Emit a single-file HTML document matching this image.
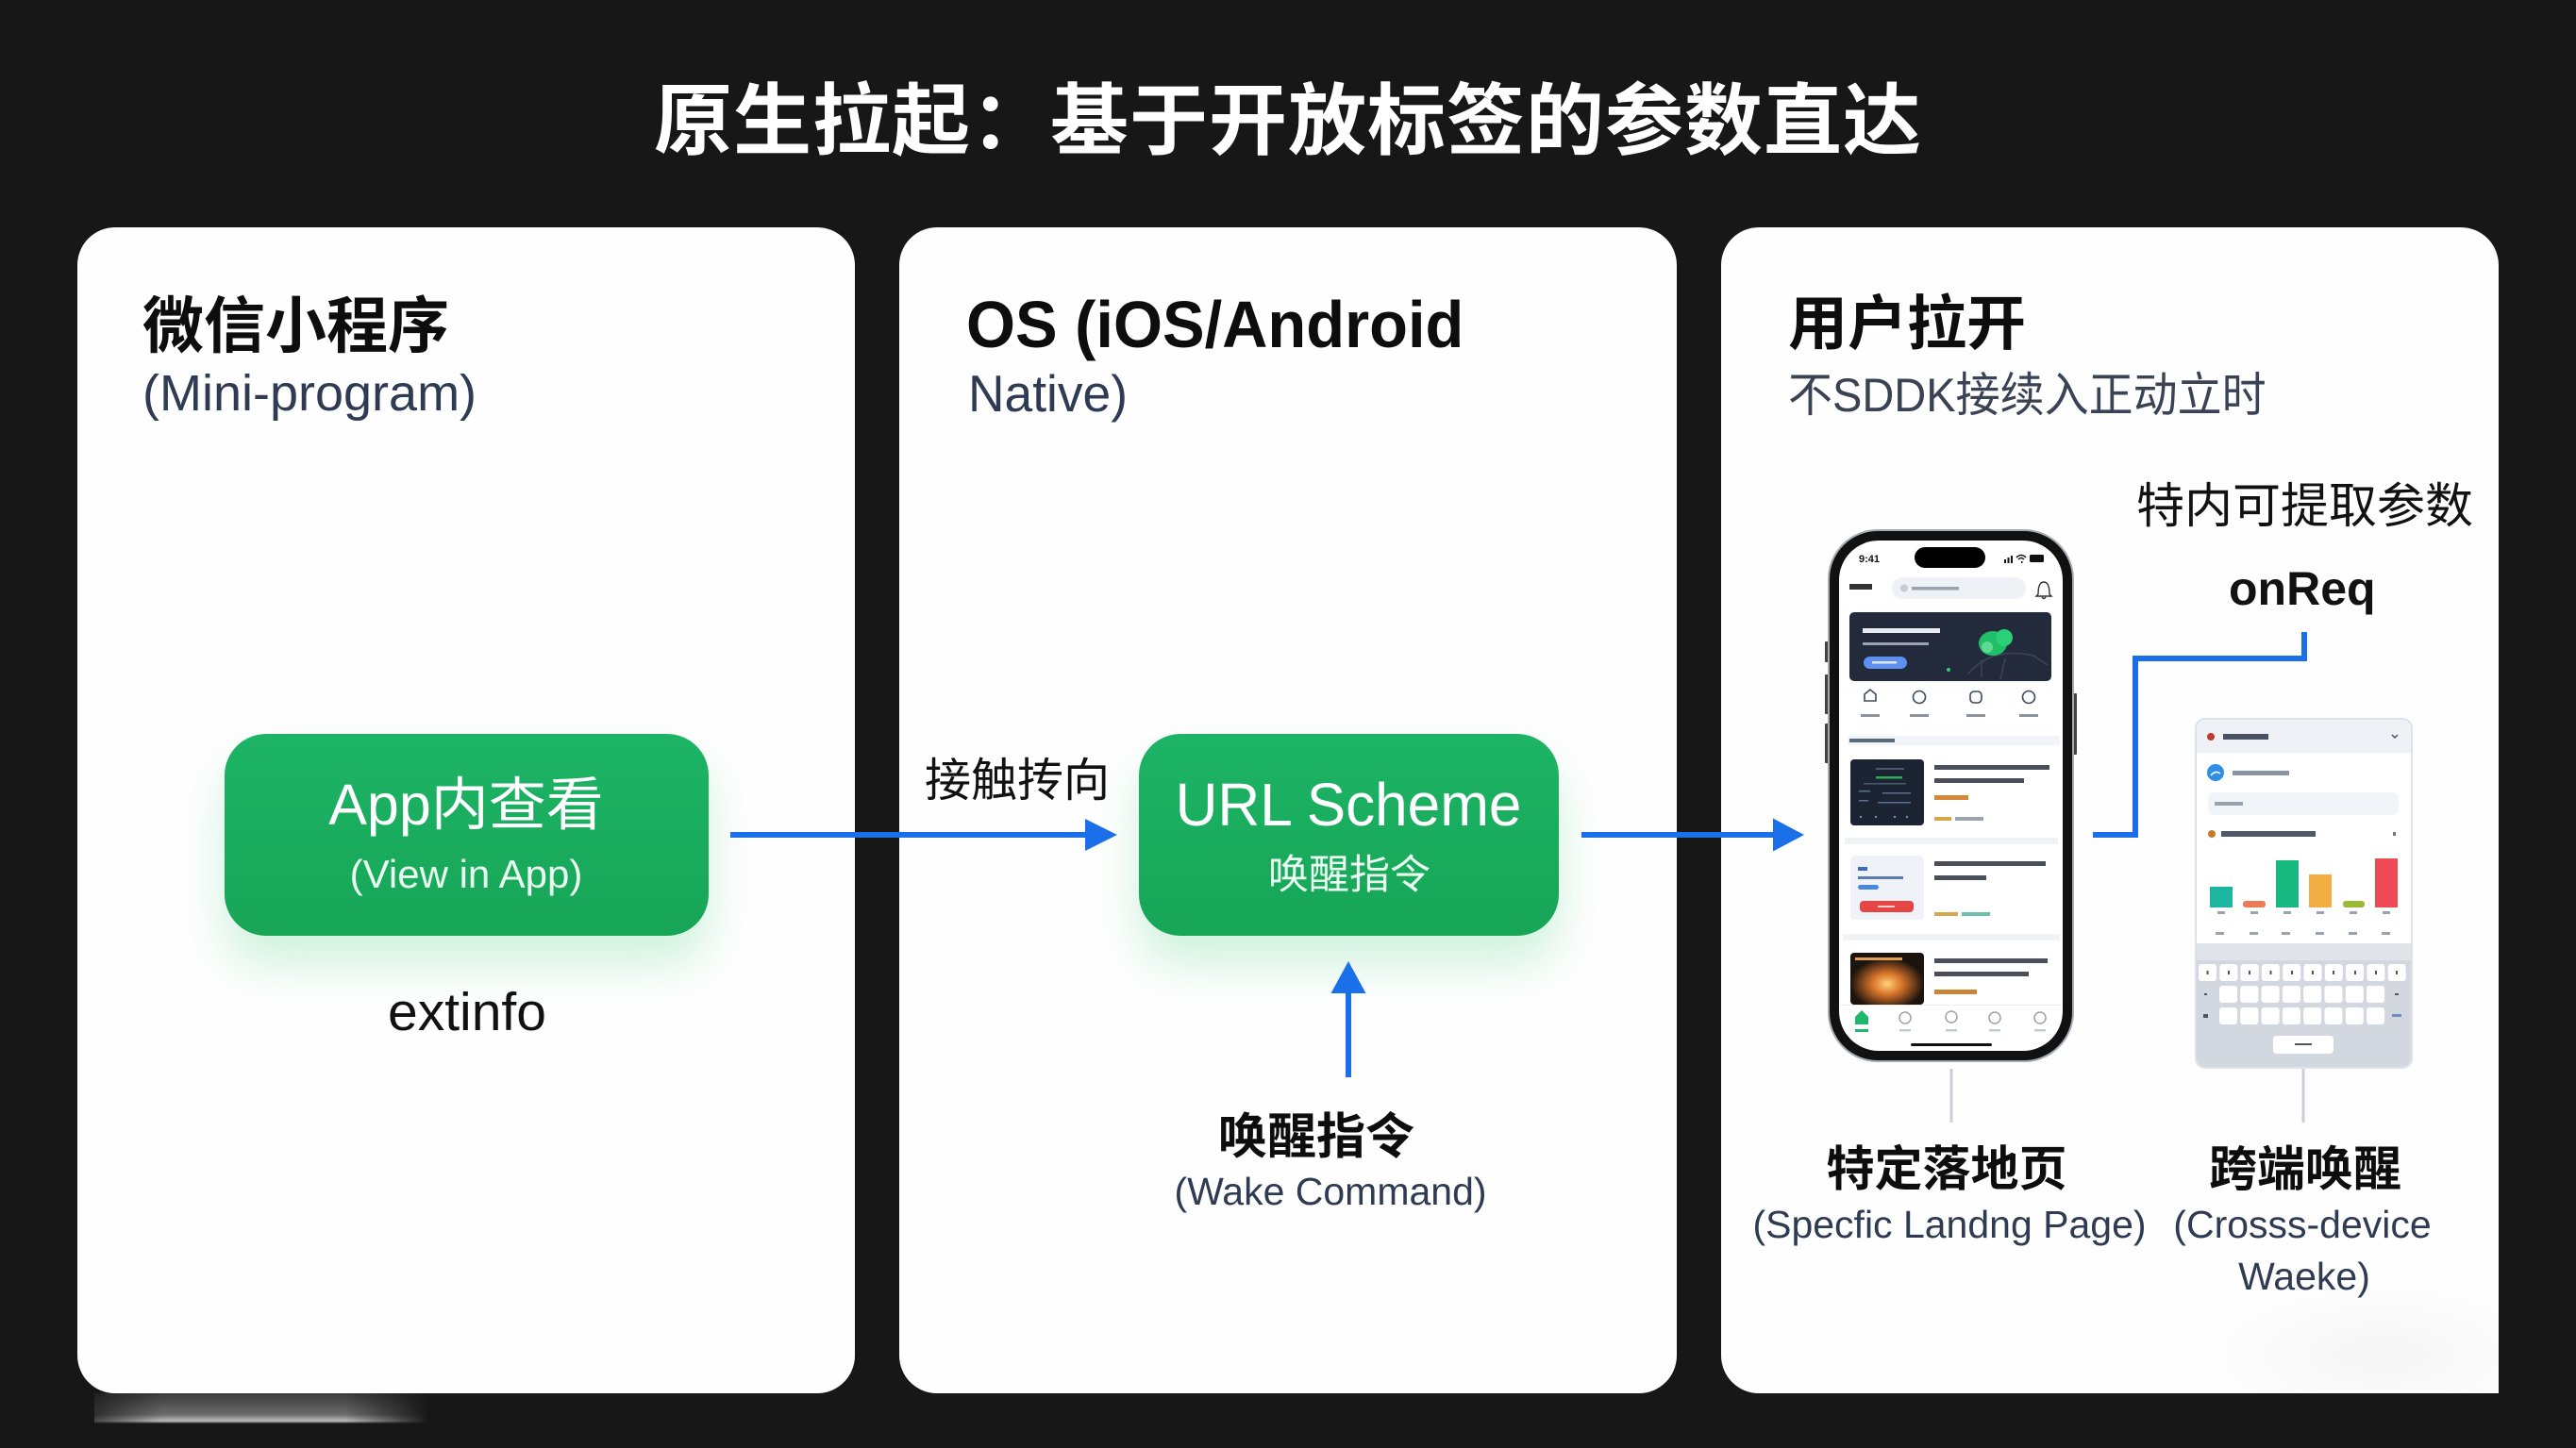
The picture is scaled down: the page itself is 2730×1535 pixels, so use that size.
<!DOCTYPE html>
<html>
<head>
<meta charset="utf-8">
<style>
html,body{margin:0;padding:0;background:#171717;}
#c{position:relative;width:2730px;height:1535px;overflow:hidden;background:#171717;font-family:"Liberation Sans","Noto Sans CJK SC",sans-serif;}
.t{position:absolute;white-space:nowrap;line-height:1;}
.panel{position:absolute;top:241px;width:824px;height:1236px;background:#fefefe;border-radius:40px;}
.g{position:absolute;top:778px;height:214px;border-radius:44px;background:linear-gradient(180deg,#1db466,#17a556);box-shadow:0 30px 48px rgba(40,200,110,0.22);}
.h{font-weight:700;color:#0d0d0d;}
.s{color:#2e3b52;}
.c{transform:translateX(-50%);}
</style>
</head>
<body>
<div id="c">
  <!-- title -->
  <div class="t" style="left:0;width:2730px;text-align:center;top:87px;font-size:83px;font-weight:700;color:#fff;letter-spacing:1px;">原生拉起：基于开放标签的参数直达</div>

  <!-- panels -->
  <div class="panel" style="left:82px;"></div>
  <div class="panel" style="left:953px;"></div>
  <div class="panel" style="left:1824px;border-radius:40px 40px 0 40px;background:radial-gradient(ellipse 200px 80px at 700px 1195px,rgba(0,0,0,0.035),rgba(0,0,0,0) 100%),#fefefe;"></div>

  <!-- smudge under panel 1 -->
  <div style="position:absolute;left:100px;top:1477px;width:355px;height:32px;background:linear-gradient(180deg,#3a3a3a 0%,#6a6a6a 70%,#bdbdbd 92%,#222 100%);-webkit-mask-image:linear-gradient(90deg,rgba(0,0,0,0.3),#000 20%,#000 75%,rgba(0,0,0,0));mask-image:linear-gradient(90deg,rgba(0,0,0,0.3),#000 20%,#000 75%,rgba(0,0,0,0));"></div>

  <!-- panel headings -->
  <div class="t h" style="left:151px;top:313px;font-size:65px;">微信小程序</div>
  <div class="t s" style="left:151px;top:390px;font-size:54px;">(Mini-program)</div>

  <div class="t h" style="left:1024px;top:309px;font-size:70px;transform-origin:left top;transform:scaleX(0.955);">OS (iOS/Android</div>
  <div class="t s" style="left:1026px;top:390px;font-size:55px;transform-origin:left top;transform:scaleX(0.97);">Native)</div>

  <div class="t h" style="left:1895px;top:313px;font-size:63px;">用户拉开</div>
  <div class="t s" style="left:1895px;top:394px;font-size:50px;color:#3a4354;transform-origin:left top;transform:scaleX(0.94);">不SDDK接续入正动立时</div>

  <!-- green boxes -->
  <div class="g" style="left:238px;width:513px;"></div>
  <div class="g" style="left:1207px;width:445px;"></div>

  <div class="t c" style="left:494px;top:823px;font-size:61px;color:#fff;">App内查看</div>
  <div class="t c" style="left:494px;top:906px;font-size:42px;color:#eafff1;">(View in App)</div>
  <div class="t c" style="left:1429px;top:821px;font-size:64px;color:#fff;transform:translateX(-50%) scaleX(0.97);">URL Scheme</div>
  <div class="t c" style="left:1430px;top:907px;font-size:43px;color:#eafff1;">唤醒指令</div>

  <div class="t c" style="left:495px;top:1045px;font-size:57px;color:#111;">extinfo</div>

  <div class="t" style="left:980px;top:804px;font-size:49px;color:#111;">接触抟向</div>

  <div class="t c h" style="left:1395px;top:1180px;font-size:52px;">唤醒指令</div>
  <div class="t c s" style="left:1410px;top:1243px;font-size:41px;">(Wake Command)</div>

  <div class="t" style="left:2264px;top:511px;font-size:51px;color:#111;">特内可提取参数</div>
  <div class="t" style="left:2362px;top:599px;font-size:50px;font-weight:700;color:#111;">onReq</div>

  <div class="t c h" style="left:2063px;top:1214px;font-size:51px;">特定落地页</div>
  <div class="t c s" style="left:2066px;top:1278px;font-size:41px;">(Specfic Landng Page)</div>
  <div class="t c h" style="left:2443px;top:1214px;font-size:51px;">跨端唤醒</div>
  <div class="t c s" style="left:2440px;top:1278px;font-size:41px;">(Crosss-device</div>
  <div class="t c s" style="left:2442px;top:1333px;font-size:41px;">Waeke)</div>

  <svg width="2730" height="1535" viewBox="0 0 2730 1535" style="position:absolute;left:0;top:0;" xmlns="http://www.w3.org/2000/svg">
    <defs>
      <radialGradient id="fire" cx="0.5" cy="0.6" r="0.5">
        <stop offset="0" stop-color="#ffd27a"/>
        <stop offset="0.4" stop-color="#d9752a"/>
        <stop offset="1" stop-color="#1b130e"/>
      </radialGradient>
    </defs>
    <!-- arrows -->
    <g fill="#1b6fe8" stroke="none">
      <rect x="774" y="882" width="382" height="6"/>
      <polygon points="1150,868 1184,885 1150,902"/>
      <rect x="1676" y="882" width="206" height="6"/>
      <polygon points="1879,867.5 1912,885 1879,902.5"/>
      <rect x="1426" y="1050" width="6" height="92"/>
      <polygon points="1410.5,1053 1429,1019 1447.5,1053"/>
    </g>
    <polyline points="2218,885 2263,885 2263,698 2442,698 2442,670" fill="none" stroke="#1b6fe8" stroke-width="6" stroke-linejoin="miter"/>

    <!-- gray connector stubs -->
    <rect x="2066.5" y="1133" width="3" height="57" fill="#c8cfd8"/>
    <rect x="2439.5" y="1133" width="3" height="57" fill="#c8cfd8"/>

    <!-- PHONE -->
    <rect x="1934" y="680" width="4" height="22" rx="1" fill="#444"/>
    <rect x="1934" y="715" width="4" height="42" rx="1" fill="#444"/>
    <rect x="1934" y="767" width="4" height="42" rx="1" fill="#444"/>
    <rect x="2197" y="735" width="4" height="65" rx="1" fill="#444"/>
    <rect x="1938" y="562" width="259" height="563" rx="52" fill="#111" stroke="#a5abb3" stroke-width="2"/>
    <rect x="1949" y="573" width="237" height="541" rx="42" fill="#fff"/>
    <rect x="2029" y="580" width="75" height="22" rx="11" fill="#000"/>
    <text x="1970" y="596" font-family="Liberation Sans" font-size="11" font-weight="700" fill="#111">9:41</text>
    <rect x="2124" y="593" width="2" height="4" fill="#111"/>
    <rect x="2127.5" y="591" width="2" height="6" fill="#111"/>
    <rect x="2131" y="589" width="2" height="8" fill="#111"/>
    <path d="M2137 591 q5 -5 10 0 M2139 593 q3 -3 6 0" stroke="#111" stroke-width="1.5" fill="none"/>
    <rect x="2142" y="595" width="1.5" height="2" fill="#111"/>
    <rect x="2151" y="588" width="15" height="8" rx="1.5" fill="#111"/>
    <!-- search row -->
    <rect x="1960" y="619" width="24" height="6" fill="#333"/>
    <rect x="2005" y="612" width="142" height="23" rx="11.5" fill="#eef1f5"/>
    <circle cx="2018" cy="623.5" r="4" fill="#c5cbd3"/>
    <rect x="2026" y="622" width="50" height="3.5" fill="#9aa3ae"/>
    <path d="M2160 630 q0 -13 6 -13 q6 0 6 13 l2 2 h-16 z M2164 633 q2 3 4 0" stroke="#333" stroke-width="1.4" fill="none"/>
    <!-- banner -->
    <rect x="1960" y="649" width="214" height="73" rx="5" fill="#222a3b"/>
    <rect x="1974" y="666" width="82" height="5" fill="#e8ebf0"/>
    <rect x="1974" y="681" width="70" height="3" fill="#9aa3b2"/>
    <rect x="1975" y="696" width="46" height="13" rx="6.5" fill="#5e90ef"/>
    <rect x="1984" y="701" width="26" height="2.5" fill="#dde8ff"/>
    <path d="M2085 715 q25 -30 70 -20 l15 10" stroke="#3d4659" stroke-width="1.5" fill="none"/>
    <path d="M2100 718 v-18 M2120 720 l5 -22" stroke="#3d4659" stroke-width="1.5" fill="none"/>
    <ellipse cx="2112" cy="682" rx="15" ry="13" fill="#1fbf68"/>
    <ellipse cx="2124" cy="676" rx="9" ry="9" fill="#2bcf78"/>
    <ellipse cx="2106" cy="686" rx="6" ry="6" fill="#5fd98f"/>
    <circle cx="2065" cy="710" r="2" fill="#2fcf70"/>
    <!-- icon row -->
    <g stroke="#3b4a60" stroke-width="1.6" fill="none">
      <path d="M1976 743 v-7 l6 -5 l6 5 v7 z"/>
      <circle cx="2034" cy="739" r="6.5"/>
      <rect x="2088" y="733" width="12" height="12" rx="4"/>
      <circle cx="2150" cy="739" r="6.5"/>
    </g>
    <g fill="#8a93a0">
      <rect x="1972" y="757" width="20" height="3"/>
      <rect x="2024" y="757" width="20" height="3"/>
      <rect x="2084" y="757" width="20" height="3"/>
      <rect x="2140" y="757" width="20" height="3"/>
    </g>
    <!-- section -->
    <rect x="1958" y="780" width="225" height="10" fill="#f2f4f8"/>
    <rect x="1960" y="783" width="48" height="4" fill="#5a6b7e"/>
    <!-- card 1 -->
    <rect x="1961" y="805" width="78" height="70" rx="4" fill="#1c2434"/>
    <rect x="1988" y="814" width="30" height="2" fill="#4b5a70"/>
    <rect x="1988" y="823" width="28" height="2.5" fill="#2faa5a"/>
    <rect x="1975" y="830" width="45" height="1.5" fill="#4b5a70"/>
    <rect x="1970" y="838" width="12" height="1.5" fill="#5a7090"/>
    <rect x="1995" y="840" width="30" height="1.5" fill="#5a7090"/>
    <rect x="1970" y="848" width="10" height="1.5" fill="#5a7090"/>
    <rect x="1990" y="850" width="35" height="1.5" fill="#5a7090"/>
    <g fill="#7d8aa0"><circle cx="1972" cy="866" r="1.2"/><circle cx="1988" cy="866" r="1.2"/><circle cx="2008" cy="866" r="1.2"/><circle cx="2021" cy="866" r="1.2"/></g>
    <rect x="2050" y="811" width="122" height="5" fill="#4a4f5a"/>
    <rect x="2050" y="825" width="95" height="5" fill="#4a4f5a"/>
    <rect x="2050" y="843" width="36" height="5" fill="#d48a3a"/>
    <rect x="2050" y="866" width="18" height="4" fill="#d4a94a"/>
    <rect x="2072" y="866" width="30" height="4" fill="#9aa3ae"/>
    <rect x="1955" y="888" width="226" height="7" fill="#f0f2f5"/>
    <!-- card 2 -->
    <rect x="1961" y="907" width="78" height="68" rx="5" fill="#eff2f7"/>
    <rect x="1969" y="919" width="10" height="4" fill="#3a6bc8"/>
    <rect x="1969" y="929" width="48" height="3" fill="#5a7ab0"/>
    <rect x="1969" y="938" width="22" height="5" rx="2.5" fill="#4a88e0"/>
    <rect x="1971" y="955" width="57" height="12" rx="4" fill="#e84545"/>
    <rect x="1990" y="960" width="18" height="2" fill="#ffd0d0"/>
    <rect x="2050" y="913" width="118" height="5" fill="#4a4f5a"/>
    <rect x="2050" y="928" width="55" height="5" fill="#4a4f5a"/>
    <rect x="2050" y="967" width="25" height="4" fill="#d4a94a"/>
    <rect x="2079" y="967" width="30" height="4" fill="#6ac0a8"/>
    <rect x="1953" y="990" width="230" height="7" fill="#f0f2f5"/>
    <!-- card 3 -->
    <rect x="1961" y="1010" width="78" height="55" rx="4" fill="url(#fire)"/>
    <rect x="1966" y="1015" width="50" height="3" fill="#e0a050"/>
    <rect x="2050" y="1016" width="120" height="5" fill="#4a4f5a"/>
    <rect x="2050" y="1030" width="100" height="5" fill="#4a4f5a"/>
    <rect x="2050" y="1049" width="45" height="5" fill="#c9853a"/>
    <!-- tab bar -->
    <rect x="1950" y="1065" width="235" height="1" fill="#ececec"/>
    <path d="M1966 1086 v-8 l7 -7 l7 7 v8 z" fill="#1fb86a"/>
    <g stroke="#9aa3ae" stroke-width="1.5" fill="none">
      <circle cx="2019" cy="1079" r="6"/>
      <circle cx="2068" cy="1078" r="6"/>
      <circle cx="2114" cy="1079" r="6"/>
      <circle cx="2162" cy="1079" r="6"/>
    </g>
    <rect x="1966" y="1091" width="14" height="3" fill="#1fb86a"/>
    <g fill="#c3c9d1">
      <rect x="2013" y="1091" width="12" height="2.5"/>
      <rect x="2062" y="1091" width="12" height="2.5"/>
      <rect x="2108" y="1091" width="12" height="2.5"/>
      <rect x="2156" y="1091" width="12" height="2.5"/>
    </g>
    <rect x="2025" y="1106" width="86" height="3" rx="1.5" fill="#111"/>

    <!-- MOCKUP 2 -->
    <rect x="2327" y="762" width="229" height="370" rx="10" fill="#fff" stroke="#dde2e9" stroke-width="2"/>
    <path d="M2328 772 a9 9 0 0 1 9 -9 h209 a9 9 0 0 1 9 9 v26 h-227 z" fill="#eef1f6"/>
    <circle cx="2343" cy="781" r="4" fill="#c0392b"/>
    <rect x="2356" y="778" width="48" height="6" fill="#4a5262"/>
    <path d="M2535 779 l3 3 l3 -3" stroke="#4a5262" stroke-width="1.5" fill="none"/>
    <circle cx="2348" cy="819" r="9" fill="#2f8fe6"/>
    <path d="M2343 822 q5 -6 10 -2" stroke="#fff" stroke-width="1.5" fill="none"/>
    <rect x="2366" y="817" width="60" height="5" fill="#8a94a3"/>
    <rect x="2340" y="840" width="202" height="24" rx="6" fill="#f1f4f8"/>
    <rect x="2347" y="850" width="30" height="4" fill="#9aa3ae"/>
    <circle cx="2344" cy="884" r="4" fill="#c87a2a"/>
    <rect x="2354" y="881" width="100" height="6" fill="#4f5868"/>
    <rect x="2536" y="882" width="3" height="4" fill="#777"/>
    <rect x="2342" y="940" width="24" height="22" fill="#1cb6a0"/>
    <rect x="2377" y="955" width="24" height="7" rx="3" fill="#ec7a52"/>
    <rect x="2412" y="912" width="24" height="50" fill="#17b981"/>
    <rect x="2447" y="927" width="24" height="35" fill="#f2ad43"/>
    <rect x="2483" y="955" width="23" height="7" rx="3" fill="#9cb935"/>
    <rect x="2517" y="910" width="24" height="52" fill="#ee4b57"/>
    <g fill="#9aa3ae">
      <rect x="2350" y="966" width="8" height="3"/><rect x="2385" y="966" width="8" height="3"/><rect x="2420" y="966" width="8" height="3"/>
      <rect x="2455" y="966" width="8" height="3"/><rect x="2490" y="966" width="8" height="3"/><rect x="2525" y="966" width="8" height="3"/>
      <rect x="2348" y="988" width="9" height="3"/><rect x="2384" y="988" width="9" height="3"/><rect x="2418" y="988" width="9" height="3"/>
      <rect x="2454" y="988" width="9" height="3"/><rect x="2489" y="988" width="9" height="3"/><rect x="2524" y="988" width="9" height="3"/>
    </g>
    <path d="M2328 1000 h227 v122 a9 9 0 0 1 -9 9 h-209 a9 9 0 0 1 -9 -9 z" fill="#d3d8e0"/>
    <rect x="2328" y="1000" width="227" height="18" fill="#e1e5eb"/>
    <g fill="#fff">
      <rect x="2330" y="1022" width="19" height="18" rx="3"/><rect x="2352.3" y="1022" width="19" height="18" rx="3"/>
      <rect x="2374.6" y="1022" width="19" height="18" rx="3"/><rect x="2396.9" y="1022" width="19" height="18" rx="3"/>
      <rect x="2419.2" y="1022" width="19" height="18" rx="3"/><rect x="2441.5" y="1022" width="19" height="18" rx="3"/>
      <rect x="2463.8" y="1022" width="19" height="18" rx="3"/><rect x="2486.1" y="1022" width="19" height="18" rx="3"/>
      <rect x="2508.4" y="1022" width="19" height="18" rx="3"/><rect x="2530.7" y="1022" width="19" height="18" rx="3"/>
      <rect x="2352" y="1045" width="19" height="18" rx="3"/><rect x="2374.3" y="1045" width="19" height="18" rx="3"/>
      <rect x="2396.6" y="1045" width="19" height="18" rx="3"/><rect x="2418.9" y="1045" width="19" height="18" rx="3"/>
      <rect x="2441.2" y="1045" width="19" height="18" rx="3"/><rect x="2463.5" y="1045" width="19" height="18" rx="3"/>
      <rect x="2485.8" y="1045" width="19" height="18" rx="3"/><rect x="2508.1" y="1045" width="19" height="18" rx="3"/>
      <rect x="2352" y="1068" width="19" height="18" rx="3"/><rect x="2374.3" y="1068" width="19" height="18" rx="3"/>
      <rect x="2396.6" y="1068" width="19" height="18" rx="3"/><rect x="2418.9" y="1068" width="19" height="18" rx="3"/>
      <rect x="2441.2" y="1068" width="19" height="18" rx="3"/><rect x="2463.5" y="1068" width="19" height="18" rx="3"/>
      <rect x="2485.8" y="1068" width="19" height="18" rx="3"/><rect x="2508.1" y="1068" width="19" height="18" rx="3"/>
      <rect x="2409" y="1098" width="64" height="19" rx="4"/>
    </g>
    <g fill="#555">
      <rect x="2338.5" y="1029" width="2" height="4"/><rect x="2361" y="1029" width="2" height="4"/><rect x="2383" y="1029" width="2" height="4"/>
      <rect x="2405.5" y="1029" width="2" height="4"/><rect x="2428" y="1029" width="2" height="4"/><rect x="2450" y="1029" width="2" height="4"/>
      <rect x="2472" y="1029" width="2" height="4"/><rect x="2495" y="1029" width="2" height="4"/><rect x="2517" y="1029" width="2" height="4"/>
      <rect x="2539" y="1029" width="2" height="4"/>
      <rect x="2336" y="1053" width="3" height="2"/><rect x="2538" y="1053" width="4" height="2"/>
      <rect x="2335" y="1075" width="5" height="4"/><rect x="2535" y="1075" width="10" height="3" fill="#6f8fc0"/>
      <rect x="2432" y="1106" width="18" height="2"/>
    </g>
  </svg>
</div>
</body>
</html>
